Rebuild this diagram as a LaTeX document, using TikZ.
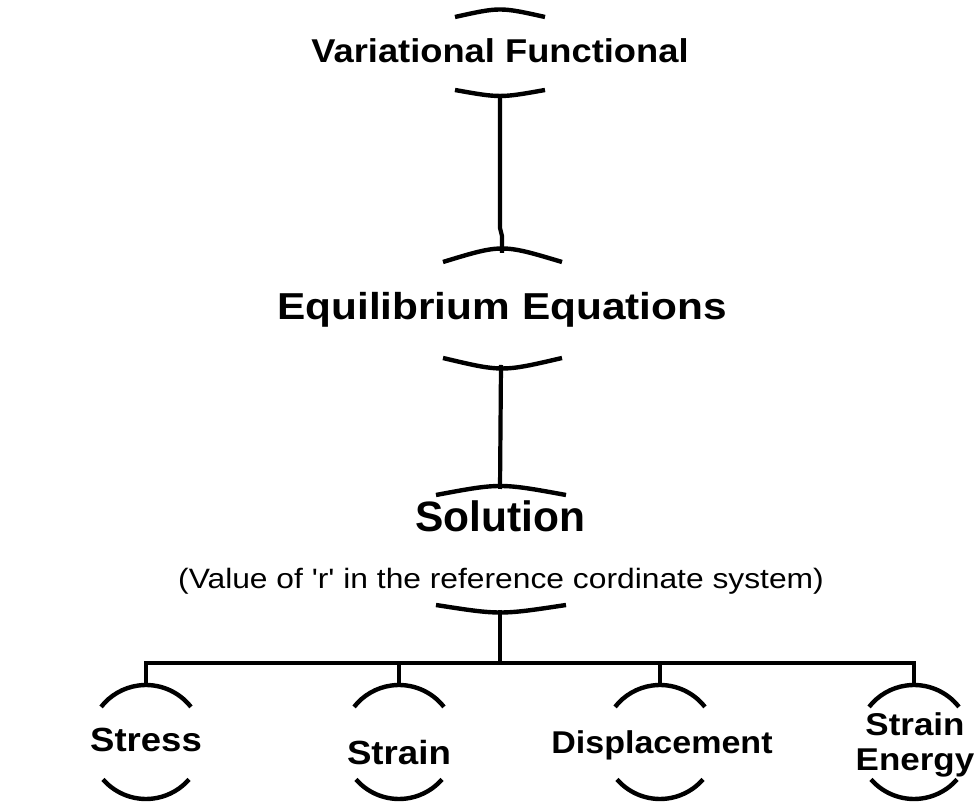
\documentclass[tikz,border=0pt]{standalone}
\usepackage{fontspec}
\setmainfont{Liberation Sans}
\newcommand\sztext[3]{{\fontsize{#1}{#1}\selectfont\scalebox{#2}[1]{#3}}}
\begin{document}
\begin{tikzpicture}[x=1pt,y=1pt,
  lbl/.style={inner sep=0pt, anchor=base, font=\bfseries},
  arcline/.style={line width=4.4pt},
  wire/.style={line width=4.2pt, line join=miter}]
\useasboundingbox (0,0) rectangle (977,805);
\fill[white] (0,0) rectangle (977,805);

% main nodes
\node[lbl] (vf) at (500,742) {\sztext{33}{1.1}{Variational Functional}};
\node[lbl] (ee) at (502,485) {\sztext{37.5}{1.13}{Equilibrium Equations}};
\node[lbl] (sol) at (500,273) {\sztext{42.5}{1}{Solution}};
\node[lbl, font=\mdseries] (sub) at (501,216) {\sztext{28}{1.135}{(Value of \textquotesingle r\textquotesingle\ in the reference cordinate system)}};

% bottom nodes
\node[lbl] (st) at (146,53) {\sztext{33.5}{1.09}{Stress}};
\node[lbl] (sn) at (399,40) {\sztext{33.5}{1.095}{Strain}};
\node[lbl] (dp) at (662,51) {\sztext{31.5}{1.08}{Displacement}};
\node[lbl] (se) at (915,69) {\sztext{31.5}{1.11}{\vtop{\baselineskip=35pt\lineskiplimit=-100pt\hbox to 0pt{\hss Strain\hss}\hbox to 0pt{\hss Energy\hss}}}};

% arcs of main nodes
\draw[arcline] (455,788) .. controls (500,798) .. (545,788);
\draw[arcline] (455,715) .. controls (500,707) .. (545,715);
\coordinate (vfb) at (500,711);
\draw[arcline] (443,543) .. controls (502,561) .. (562,543);
\coordinate (eet) at (502,552);
\draw[arcline] (443,447) .. controls (502,433) .. (562,447);
\coordinate (eeb) at (501,440);
\draw[arcline] (436,310) .. controls (500,322) .. (566,310);
\coordinate (solt) at (500,316);
\draw[arcline] (436,200) .. controls (500,190) .. (566,200);
\coordinate (solb) at (500,195);

% arcs of bottom nodes
\foreach \cx in {146,399,660,914}{
  \draw[arcline] ([shift={(38:57)}]\cx,63) arc[start angle=38,end angle=142,radius=57];
  \draw[arcline] ([shift={(221:57)}]\cx,63) arc[start angle=221,end angle=319,radius=57];
}

% connectors
\coordinate (j1) at (500,577);
\coordinate (j2) at (502,569);
\draw[wire] (vfb) -- (j1) -- (j2) -- (eet);
\draw[wire] (eeb) -- (solt);
\coordinate (busm) at (500,142);
\coordinate (b1) at (146,142); \coordinate (t1) at (146,120);
\coordinate (b2) at (399,142); \coordinate (t2) at (399,120);
\coordinate (b3) at (660,142); \coordinate (t3) at (660,120);
\coordinate (b4) at (914,142); \coordinate (t4) at (914,120);
\draw[wire] (solb) -- (busm);
\draw[wire] (t1) -- (b1) -- (b4) -- (t4);
\draw[wire] (b2) -- (t2);
\draw[wire] (b3) -- (t3);
\end{tikzpicture}
\end{document}
